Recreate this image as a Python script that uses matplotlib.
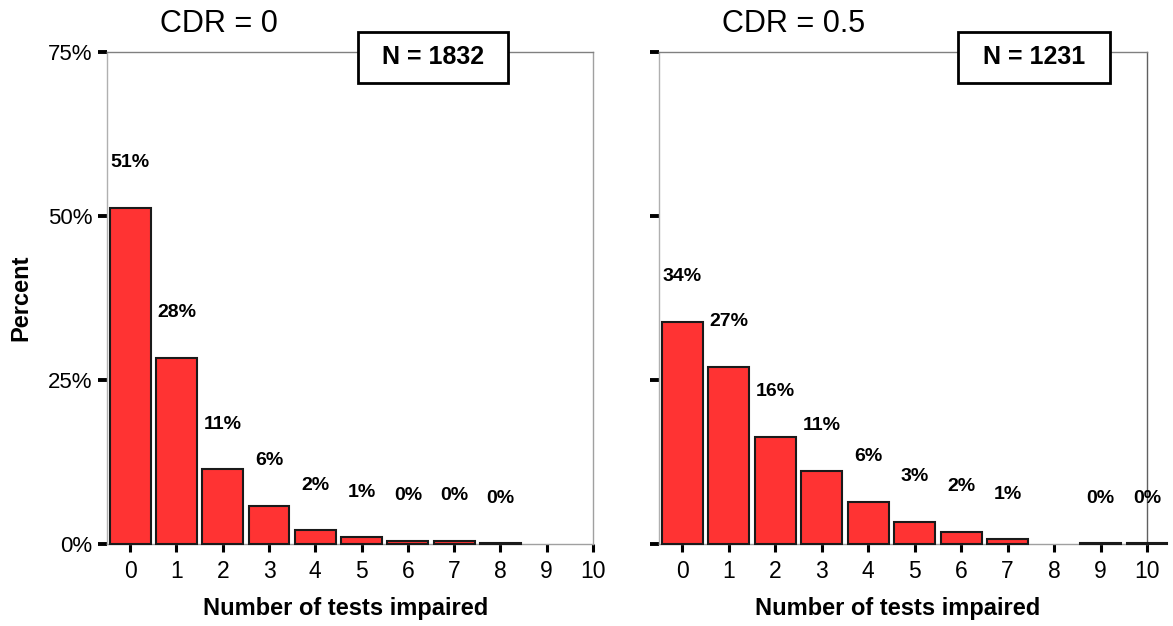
import matplotlib
matplotlib.use("Agg")
import matplotlib.pyplot as plt
from matplotlib.patches import Rectangle

plt.rcParams['font.family'] = ['Liberation Sans', 'DejaVu Sans']

categories = list(range(11))
tick_labels = [str(c) for c in categories]
cdr0_values = [51.2, 28.35, 11.4, 5.8, 2.1, 1.0, 0.45, 0.45, 0.1, 0.0, 0.0]
cdr05_values = [33.9, 27.0, 16.3, 11.2, 6.4, 3.35, 1.9, 0.7, 0.0, 0.1, 0.1]
titles = ["CDR = 0", "CDR = 0.5"]
n_labels = ["N = 1832", "N = 1231"]
y_ticks = [0, 25, 50, 75]
y_tick_labels = ["0%", "25%", "50%", "75%"]

W, H = 1173, 626
fig = plt.figure(figsize=(W / 100, H / 100), dpi=100)

panels = [
    dict(vals=cdr0_values, left=107, width=486, title_x=160, box=(358, 508)),
    dict(vals=cdr05_values, left=659, width=488, title_x=722, box=(958, 1110)),
]
top_px, bot_px = 52, 544

for i, p in enumerate(panels):
    ax = fig.add_axes([p['left'] / W, (H - bot_px) / H, p['width'] / W, (bot_px - top_px) / H])
    vals = p['vals']
    xs = [c for c, v in zip(categories, vals) if v > 0]
    hs = [v for v in vals if v > 0]
    ax.bar(xs, hs, width=0.88, color='#ff3333', edgecolor='#1a1a1a',
           linewidth=1.5, zorder=3, clip_on=False)
    for x, h in zip(xs, hs):
        ax.annotate(f"{round(h):d}%", (x, h), xytext=(0, 32.5), textcoords='offset points',
                    ha='center', va='center', fontsize=14, fontweight='bold')
    ax.set_xlim(-0.5, 10)
    ax.set_ylim(0, 75)
    ax.set_xticks(categories)
    ax.set_xticklabels(tick_labels, fontsize=16.5)
    ax.set_yticks(y_ticks)
    if i == 0:
        ax.set_yticklabels(y_tick_labels, fontsize=16)
        ax.set_ylabel("Percent", fontsize=17, fontweight='bold')
        ax.yaxis.set_label_coords(-0.154, 0.5)
    else:
        ax.set_yticklabels([])
    ax.tick_params(axis='y', direction='out', length=6.5, width=2.8, color='black', pad=4)
    ax.tick_params(axis='x', direction='out', length=5.5, width=2.2, color='black', pad=6)
    ax.set_xlabel("Number of tests impaired", fontsize=17, fontweight='bold')
    ax.xaxis.set_label_coords(0.49, -0.108)
    for side in ['left', 'right', 'top', 'bottom']:
        ax.spines[side].set_linewidth(1.0)
    ax.spines['left'].set_color('#b0b0b0')
    ax.spines['right'].set_color('#a0a0a0' if i == 0 else '#606060')
    ax.spines['top'].set_color('#808080')
    ax.spines['bottom'].set_color('#a0a0a0')

    fig.text(p['title_x'] / W, 1 - 24 / H, titles[i], fontsize=22, ha='left', va='center')

    bx0, bx1 = p['box']
    by0, by1 = 32, 83
    rect = Rectangle((bx0 / W, 1 - by1 / H), (bx1 - bx0) / W, (by1 - by0) / H,
                     transform=fig.transFigure, facecolor='white', edgecolor='black',
                     linewidth=2, zorder=5)
    fig.patches.append(rect)
    fig.text((bx0 + bx1) / 2 / W, 1 - (by0 + by1) / 2 / H, n_labels[i], fontsize=18,
             fontweight='bold', ha='center', va='center', zorder=6)

fig.savefig("out.png", dpi=100)
